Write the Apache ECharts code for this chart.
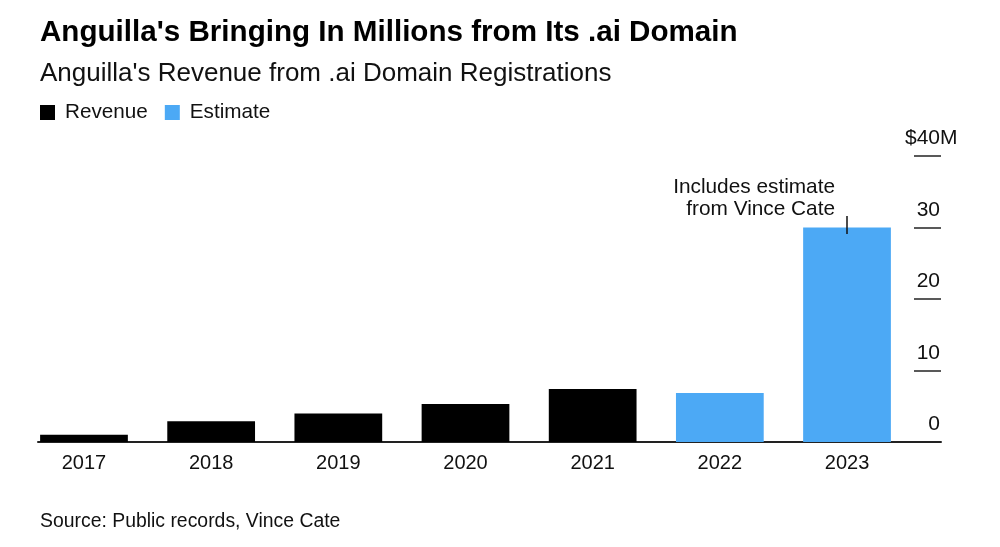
<!DOCTYPE html>
<html>
<head>
<meta charset="utf-8">
<script src="https://cdn.jsdelivr.net/npm/echarts/dist/echarts.min.js"></script>
<style>
html,body{margin:0;padding:0;background:#fff;}
#c{width:1000px;height:547px;}
</style>
</head>
<body>
<div id="c"></div>
<script>
const titleText = "Anguilla's Bringing In Millions from Its .ai Domain";
const subtitleText = "Anguilla's Revenue from .ai Domain Registrations";
const sourceText = "Source: Public records, Vince Cate";
const annotationText = "Includes estimate\nfrom Vince Cate";
const categories = ['2017', '2018', '2019', '2020', '2021', '2022', '2023'];
const revenue = [1.0, 2.9, 4.0, 5.3, 7.4, null, null];
const estimate = [null, null, null, null, null, 6.85, 30];
const yMin = 0, yMax = 40, yStep = 10;
const annotLine = [29.1, 31.6];

const FONT = "'Liberation Sans', Arial, Helvetica, sans-serif";
const BLUE = '#4ca9f5';
const chart = echarts.init(document.getElementById('c'));

chart.setOption({
  animation: false,
  textStyle: { fontFamily: FONT },
  title: [
    { text: titleText, left: 40, top: 18, padding: 0,
      textStyle: { fontSize: 29.6, fontWeight: 'bold', color: '#000', fontFamily: FONT } },
    { text: subtitleText, left: 40, top: 60.5, padding: 0,
      textStyle: { fontSize: 26, fontWeight: 'normal', color: '#111', fontFamily: FONT } },
    { text: sourceText, left: 40, top: 512, padding: 0,
      textStyle: { fontSize: 19.4, fontWeight: 'normal', color: '#111', fontFamily: FONT } }
  ],
  legend: {
    left: 40, top: 102, padding: 0, itemWidth: 15, itemHeight: 15, itemGap: 17, icon: 'rect',
    textStyle: { fontSize: 20.7, color: '#111', fontFamily: FONT, padding: [0, 0, 0, 5] },
    data: ['Revenue', 'Estimate']
  },
  grid: [
    { left: 20.4, width: 890.2, top: 156, height: 286 },
    { left: 914, width: 27, top: 156, height: 286 },
    { left: 38, width: 903, top: 156, height: 286 }
  ],
  xAxis: [
    { type: 'category', gridIndex: 0, data: categories,
      axisLine: { show: false }, axisTick: { show: false },
      axisLabel: { fontSize: 20, color: '#111', margin: 11, fontFamily: FONT } },
    { type: 'value', gridIndex: 1, show: false, min: 0, max: 1 },
    { type: 'value', gridIndex: 2, min: 0, max: 1,
      axisLine: { show: true, onZero: false, lineStyle: { color: '#222', width: 2 } },
      axisTick: { show: false }, axisLabel: { show: false }, splitLine: { show: false } }
  ],
  yAxis: [
    { type: 'value', gridIndex: 0, min: yMin, max: yMax, interval: yStep, show: false },
    { type: 'value', gridIndex: 1, position: 'right', min: yMin, max: yMax, interval: yStep,
      axisLine: { show: false }, axisTick: { show: false },
      splitLine: { show: true, lineStyle: { color: '#222', width: 1.5 } },
      axisLabel: {
        show: true, margin: 16.5, align: 'right', verticalAlign: 'bottom',
        padding: [0, 0, 7, 0], color: '#111', fontSize: 21, fontFamily: FONT,
        formatter: v => v === yMax ? '{n|$' + v + '}{m|M}' : '{n|' + v + '}{m| }',
        rich: {
          n: { fontSize: 21, color: '#111', fontFamily: FONT },
          m: { fontSize: 21, color: '#111', fontFamily: FONT, width: 17.5, align: 'left' }
        }
      } },
    { type: 'value', gridIndex: 2, min: 0, max: 1, show: false }
  ],
  series: [
    { name: 'Revenue', type: 'bar', stack: 's', xAxisIndex: 0, yAxisIndex: 0,
      data: revenue, barCategoryGap: '31%', itemStyle: { color: '#000' } },
    { name: 'Estimate', type: 'bar', stack: 's', xAxisIndex: 0, yAxisIndex: 0,
      data: estimate, barCategoryGap: '31%', itemStyle: { color: BLUE },
      markLine: {
        silent: true, symbol: 'none', label: { show: false },
        lineStyle: { color: '#111', width: 1.5, type: 'solid' },
        data: [[{ coord: [categories.length - 1, annotLine[0]] }, { coord: [categories.length - 1, annotLine[1]] }]]
      } }
  ]
});

const p = chart.convertToPixel({ xAxisIndex: 0, yAxisIndex: 0 }, [categories.length - 1, estimate[categories.length - 1]]);
chart.setOption({
  graphic: [{
    type: 'text', x: p[0] - 12, y: p[1] - 29,
    style: { text: annotationText, align: 'right', verticalAlign: 'middle', fontSize: 20.8,
      lineHeight: 22.4, fill: '#111', fontFamily: FONT }
  }]
});
</script>
</body>
</html>
